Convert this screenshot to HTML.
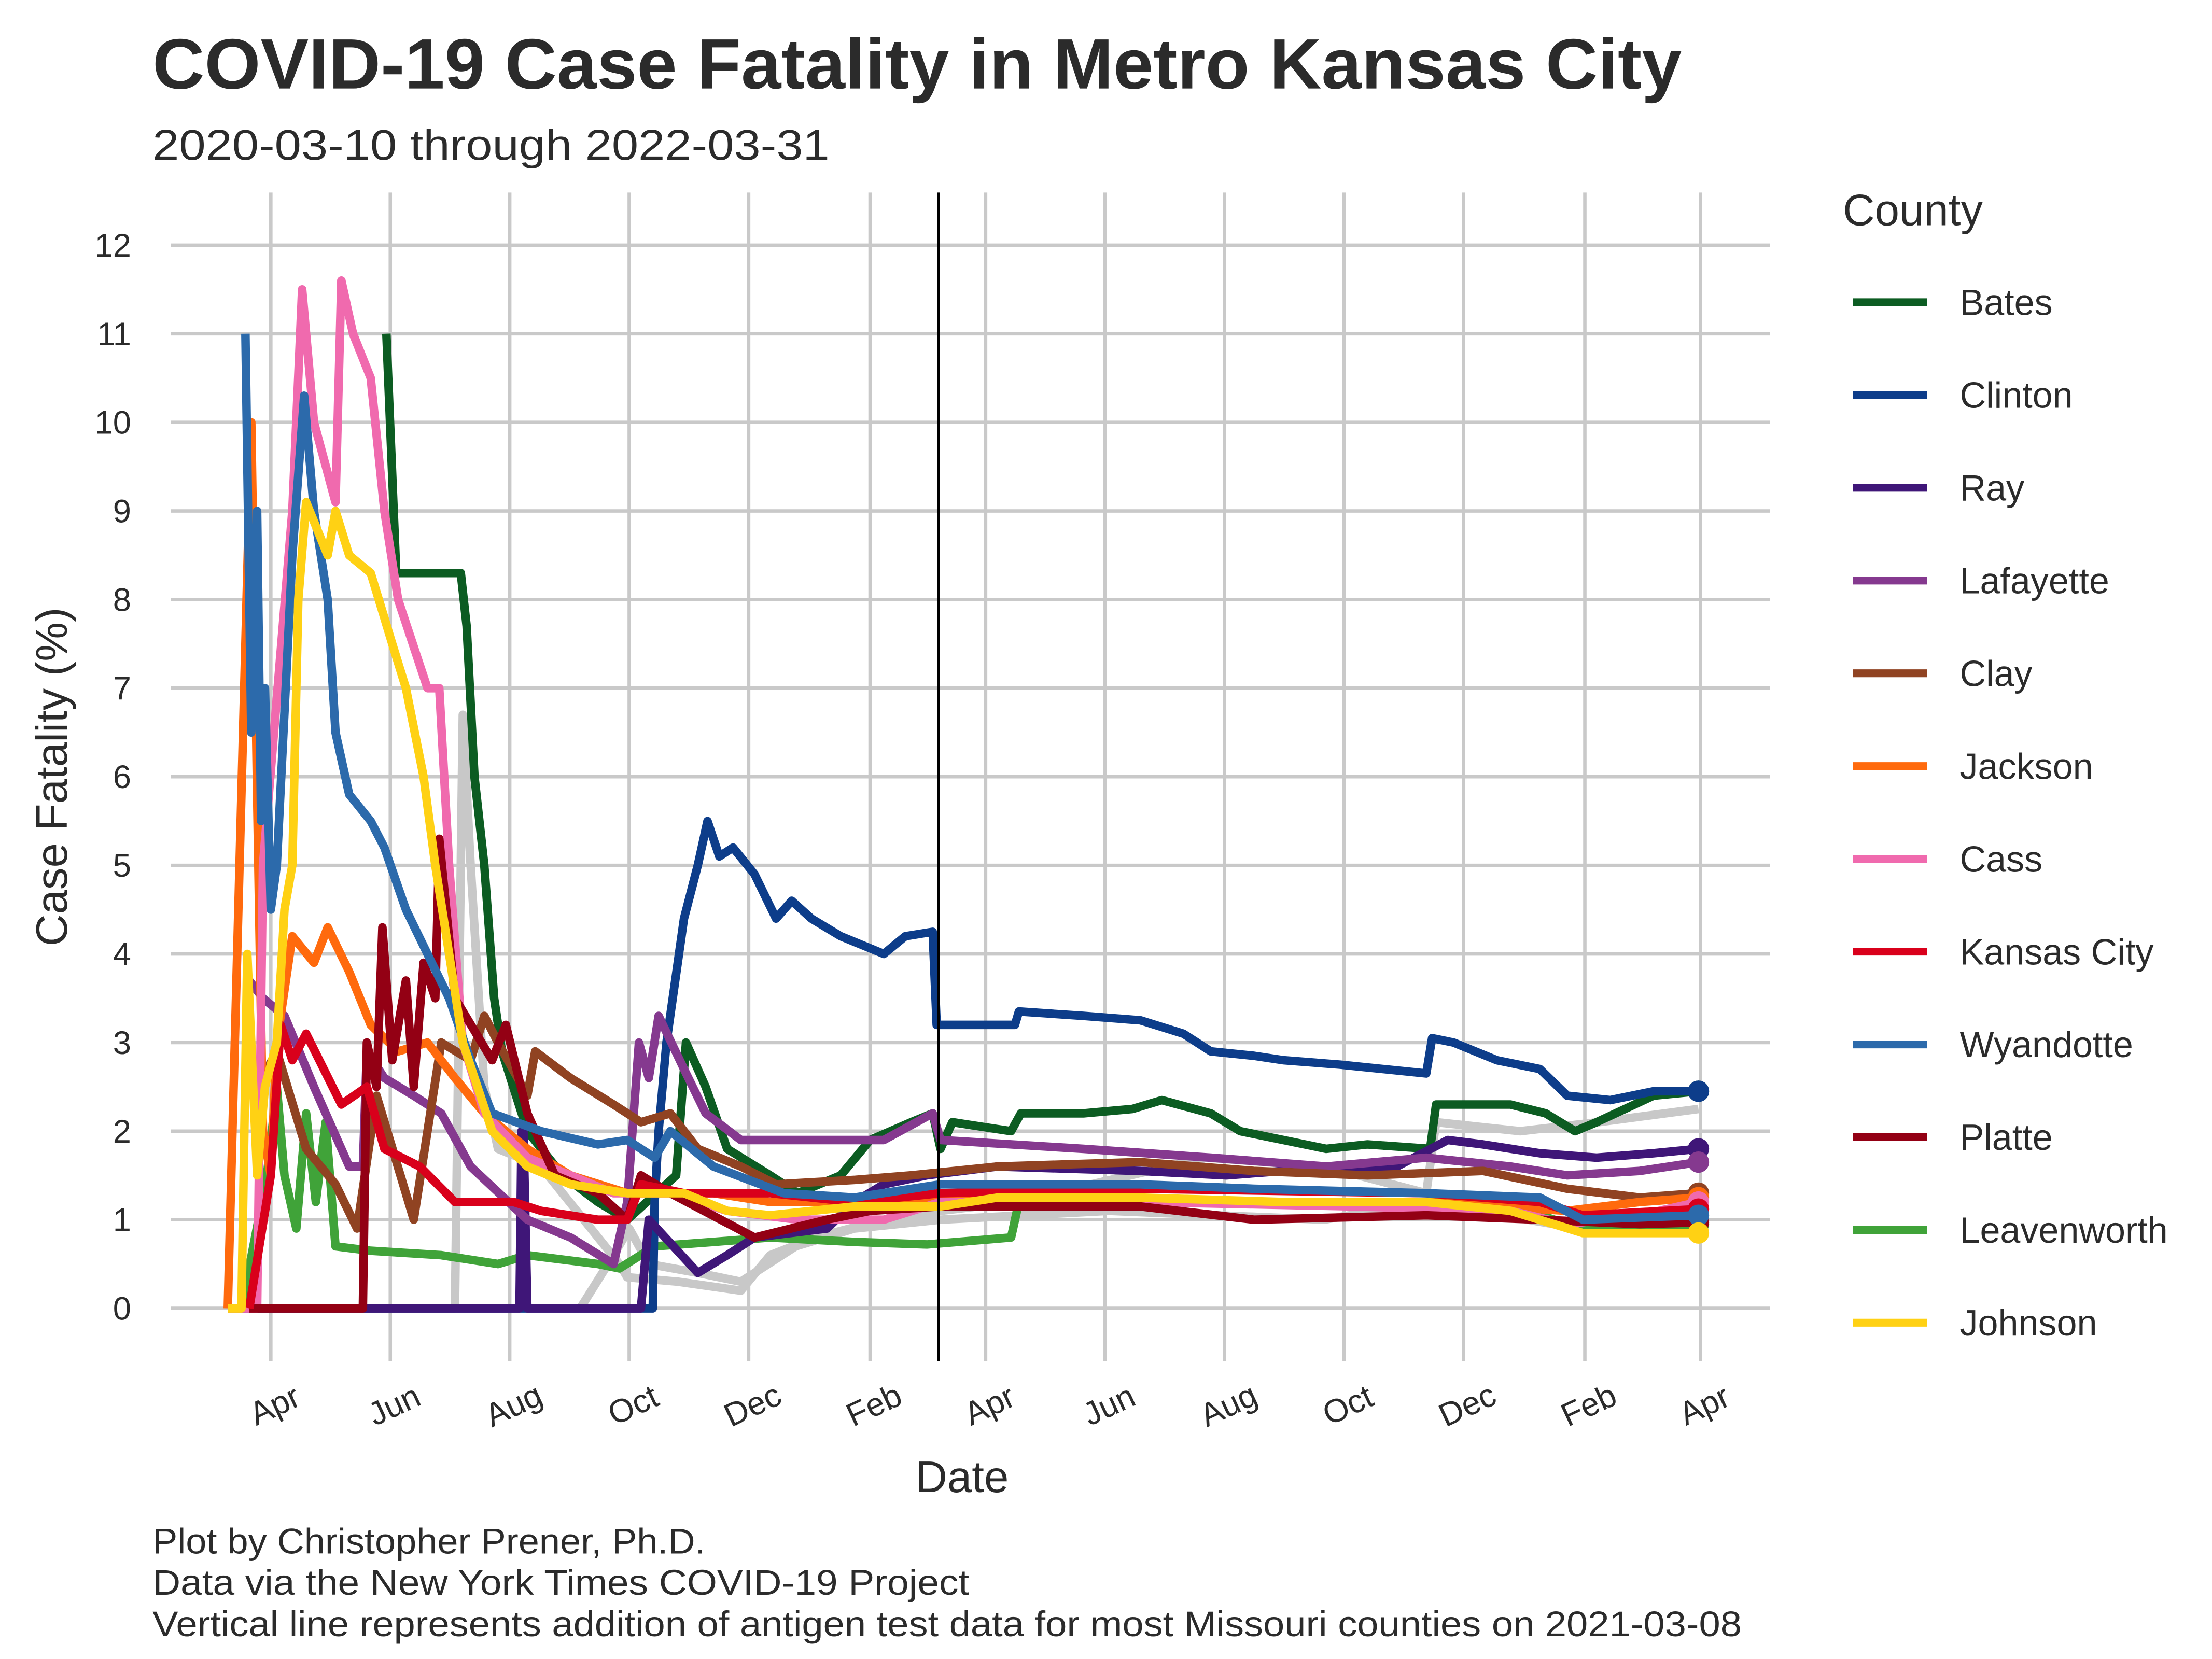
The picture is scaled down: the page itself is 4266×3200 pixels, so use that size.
<!DOCTYPE html>
<html><head><meta charset="utf-8"><style>
html,body{margin:0;padding:0;background:#fff}
svg{display:block;font-family:"Liberation Sans",sans-serif}
</style></head><body>
<svg id="chart" width="4266" height="3200" viewBox="0 0 1552 1164" xmlns="http://www.w3.org/2000/svg">
<rect width="1552" height="1164" fill="#fff"/>
<text x="107" y="62" font-size="50" font-weight="bold" fill="#2b2b2b" textLength="1073" lengthAdjust="spacingAndGlyphs">COVID-19 Case Fatality in Metro Kansas City</text>
<text x="107" y="112" font-size="30" fill="#2b2b2b" textLength="475" lengthAdjust="spacingAndGlyphs">2020-03-10 through 2022-03-31</text>
<g id="grid"></g>
<g id="yticks"></g>
<g id="xticks"></g>
<g id="series"></g>
<line id="vline" y1="135" y2="955" stroke="#000" stroke-width="2"/>
<text transform="translate(47,545) rotate(-90)" text-anchor="middle" font-size="31" fill="#2b2b2b">Case Fatality (%)</text>
<text x="675" y="1047" text-anchor="middle" font-size="31" fill="#2b2b2b">Date</text>
<g id="legend">
<text x="1293" y="158" font-size="31" fill="#2b2b2b">County</text>
</g>
<g font-size="25" fill="#2b2b2b">
<text x="107" y="1090" textLength="388" lengthAdjust="spacingAndGlyphs">Plot by Christopher Prener, Ph.D.</text>
<text x="107" y="1119" textLength="573" lengthAdjust="spacingAndGlyphs">Data via the New York Times COVID-19 Project</text>
<text x="107" y="1148" textLength="1115" lengthAdjust="spacingAndGlyphs">Vertical line represents addition of antigen test data for most Missouri counties on 2021-03-08</text>
</g>
</svg>
<script>
// days since 2020-03-10
const yTicks = [0,1,2,3,4,5,6,7,8,9,10,11,12];
const xTickLabels = ["Apr","Jun","Aug","Oct","Dec","Feb","Apr","Jun","Aug","Oct","Dec","Feb","Apr"];
const xTickDays = [22,83,144,205,266,328,387,448,509,570,631,693,752];
const antigenDay = 363;

const greyADays = [0,116,120,124,131,138,160,200,204,230,262,277,300,335,364,402,500,560,612,617,660,700,751];
const greyAValues = [0,0,6.7,5,2.5,1.8,1.6,0.5,0.35,0.3,0.2,0.6,0.8,1.0,1.1,1.2,1.7,1.6,1.3,2.1,2.0,2.1,2.25];
const greyBDays = [180,197,205,215,240,262,290,320,364,450,560,612,690,751];
const greyBValues = [0,0.6,0.9,0.5,0.4,0.3,0.7,0.9,1.0,1.1,1.0,1.2,0.9,0.95];

const batesDays = [81,86,119,122,126,131,136,140,153,171,189,204,229,234,244,255,277,291,313,328,349,360,364,370,400,405,437,462,477,502,517,561,582,614,617,655,673,688,699,728,751];
const batesValues = [11,8.3,8.3,7.7,6,5,3.5,2.9,2.0,1.5,1.2,1.0,1.5,3.0,2.5,1.8,1.5,1.3,1.5,1.9,2.1,2.2,1.8,2.1,2.0,2.2,2.2,2.25,2.35,2.2,2.0,1.8,1.85,1.8,2.3,2.3,2.2,2.0,2.1,2.4,2.45];
const clintonDays = [0,217,218,220,224,233,240,245,251,258,269,280,288,298,313,335,346,360,362,402,404,437,466,488,502,524,539,568,612,615,626,648,670,684,706,728,751];
const clintonValues = [0,0,1.2,2,3,4.4,5,5.5,5.1,5.2,4.9,4.4,4.6,4.4,4.2,4.0,4.2,4.25,3.2,3.2,3.35,3.3,3.25,3.1,2.9,2.85,2.8,2.75,2.65,3.05,3.0,2.8,2.7,2.4,2.35,2.45,2.45];
const rayDays = [11,149,150,151,153,154,211,215,240,255,269,306,320,335,357,393,466,510,539,597,623,641,670,699,728,751];
const rayValues = [0,0,2,2,0,0,0,1.0,0.4,0.6,0.8,0.9,1.2,1.4,1.5,1.6,1.55,1.5,1.55,1.6,1.9,1.85,1.75,1.7,1.75,1.8];
const lafayetteDays = [11,18,29,44,62,69,71,80,95,109,124,153,175,197,204,210,215,220,233,244,262,335,360,364,437,502,561,612,655,684,721,751];
const lafayetteValues = [3.7,3.5,3.3,2.5,1.6,1.6,2.9,2.6,2.4,2.2,1.6,1.0,0.8,0.5,1.2,3.0,2.6,3.3,2.7,2.2,1.9,1.9,2.2,1.9,1.8,1.7,1.6,1.7,1.6,1.5,1.55,1.65];
const clayDays = [15,25,40,55,66,76,95,109,124,131,138,153,157,175,197,211,226,240,262,280,320,349,393,466,524,582,641,684,721,751];
const clayValues = [2.5,2.9,1.8,1.4,0.9,2.4,1.0,3.0,2.8,3.3,3.0,2.4,2.9,2.6,2.3,2.1,2.2,1.8,1.6,1.4,1.45,1.5,1.6,1.65,1.55,1.5,1.55,1.35,1.25,1.3];
const jacksonDays = [0,12,15,18,22,25,33,44,51,62,73,87,102,116,131,153,175,204,248,277,320,393,502,612,684,721,751];
const jacksonValues = [0,10,5.8,2,1.5,3,4.2,3.9,4.3,3.8,3.2,2.9,3.0,2.6,2.2,1.8,1.5,1.3,1.3,1.2,1.2,1.25,1.2,1.2,1.1,1.2,1.25];
const cassDays = [0,15,18,33,38,44,55,58,64,73,80,87,102,108,113,120,131,153,175,197,226,255,291,335,364,466,575,655,684,721,751];
const cassValues = [0,0,5,9,11.5,10,9.1,11.6,11,10.5,9,8,7,7,5,3,2.2,1.7,1.5,1.3,1.3,1.1,1.0,1.0,1.2,1.2,1.15,1.1,0.95,1.05,1.2];
const kcDays = [11,22,27,33,40,58,71,80,98,116,146,160,189,204,211,233,277,320,364,466,612,670,692,751];
const kcValues = [0,1.5,3.2,2.8,3.1,2.3,2.5,1.8,1.6,1.2,1.2,1.1,1.0,1.0,1.4,1.3,1.3,1.2,1.3,1.35,1.3,1.2,1.05,1.12];
const wyandotteDays = [9,12,15,17,19,22,25,33,39,44,51,55,62,73,80,91,102,113,124,135,160,189,204,218,226,248,284,320,364,466,524,612,670,692,751];
const wyandotteValues = [11,6.5,9,5.5,7,4.5,5,8.5,10.3,9,8,6.5,5.8,5.5,5.2,4.5,4.0,3.5,2.8,2.2,2.0,1.85,1.9,1.7,2.0,1.6,1.3,1.25,1.4,1.4,1.35,1.3,1.25,1.0,1.05];
const platteDays = [11,69,71,76,79,84,91,95,100,106,108,116,135,142,153,167,189,204,211,226,269,306,328,364,466,524,612,670,721,751];
const platteValues = [0,0,3,2.5,4.3,2.8,3.7,2.5,3.9,3.5,5.3,3.5,2.8,3.2,2.2,1.5,1.3,1.0,1.5,1.3,0.8,1.0,1.1,1.15,1.15,1.0,1.05,1.0,0.95,0.97];
const leavenworthDays = [7,20,25,29,35,40,45,50,55,73,109,138,153,189,200,218,248,277,320,357,400,404,539,648,692,751];
const leavenworthValues = [0,1.5,2.5,1.5,0.9,2.2,1.2,2.1,0.7,0.65,0.6,0.5,0.6,0.5,0.45,0.7,0.75,0.8,0.75,0.72,0.8,1.2,1.2,1.2,0.9,0.95];
const johnsonDays = [0,7,10,15,19,25,29,33,36,40,51,55,62,73,84,91,100,106,113,120,135,153,175,204,233,255,277,320,364,393,466,539,612,655,692,751];
const johnsonValues = [0,0,4,1.5,2.5,3,4.5,5,8,9.1,8.5,9,8.5,8.3,7.5,7.0,6.0,5,4,3,2,1.6,1.4,1.3,1.3,1.1,1.05,1.15,1.15,1.25,1.25,1.2,1.2,1.1,0.85,0.85];

const counties = ["Bates","Clinton","Ray","Lafayette","Clay","Jackson","Cass","Kansas City","Wyandotte","Platte","Leavenworth","Johnson"];
const colors = ["#0c5c22","#0d3d8a","#3f1678","#85398f","#904322","#ff6a0d","#f06aae","#d9001b","#2c6aab","#930014","#40a339","#ffd114"];
const seriesDays = [batesDays,clintonDays,rayDays,lafayetteDays,clayDays,jacksonDays,cassDays,kcDays,wyandotteDays,platteDays,leavenworthDays,johnsonDays];
const seriesValues = [batesValues,clintonValues,rayValues,lafayetteValues,clayValues,jacksonValues,cassValues,kcValues,wyandotteValues,platteValues,leavenworthValues,johnsonValues];
const drawOrder = [10,0,1,2,3,4,5,6,9,7,8,11];

const NS="http://www.w3.org/2000/svg";
function xScale(d){return 159.8+1.374*d;}
function yScale(v){return 918-62.17*v;}
function mk(tag,attrs,parent){const e=document.createElementNS(NS,tag);for(const k in attrs)e.setAttribute(k,attrs[k]);parent.appendChild(e);return e;}

const grid=document.getElementById('grid');
yTicks.forEach(v=>{
  const l=mk('line',{x1:120,x2:1242,y1:yScale(v),y2:yScale(v),stroke:'#c9c9c9','stroke-width':2.4},grid);
  
  
  const t=mk('text',{x:92,y:yScale(v)+8,'text-anchor':'end','font-size':23,fill:'#2b2b2b'},document.getElementById('yticks'));
  t.textContent=v;
  
  
});
xTickDays.forEach((d,i)=>{
  const x=xScale(d);
  const l=mk('line',{x1:x,x2:x,y1:135,y2:955,stroke:'#c9c9c9','stroke-width':2.4},grid);
  
  
  const t=mk('text',{transform:`translate(${x+6},${993}) rotate(-25)`,'text-anchor':'middle','font-size':23,fill:'#2b2b2b'},document.getElementById('xticks'));
  t.textContent=xTickLabels[i];
  
  
});
const vl=document.getElementById('vline');
vl.setAttribute('x1',xScale(antigenDay));vl.setAttribute('x2',xScale(antigenDay));

const sg=document.getElementById('series');
function pathD(ds,vs){return ds.map((d,i)=>(i?'L':'M')+xScale(d).toFixed(1)+' '+yScale(vs[i]).toFixed(1)).join(' ');}
[[greyADays,greyAValues],[greyBDays,greyBValues]].forEach(s=>{
  const p=mk('path',{d:pathD(s[0],s[1]),fill:'none',stroke:'#c8c8c8','stroke-width':6,'stroke-linejoin':'round'},sg);
  
  
});
drawOrder.forEach(i=>{
  const p=mk('path',{d:pathD(seriesDays[i],seriesValues[i]),fill:'none',stroke:colors[i],'stroke-width':6,'stroke-linejoin':'round'},sg);
  
  
  const n=seriesDays[i].length-1;
  const c=mk('circle',{cx:xScale(seriesDays[i][n]),cy:yScale(seriesValues[i][n]),r:7.5,fill:colors[i]},sg);
  
  
});
const lg=document.getElementById('legend');
counties.forEach((c,i)=>{
  const y=212+65.1*i;
  const l=mk('line',{x1:1300,x2:1352,y1:y,y2:y,stroke:colors[i],'stroke-width':5.5},lg);
  
  
  const t=mk('text',{x:1375,y:y+9,'font-size':25.5,fill:'#2b2b2b'},lg);
  t.textContent=c;
  
  
});
</script>
</body></html>
